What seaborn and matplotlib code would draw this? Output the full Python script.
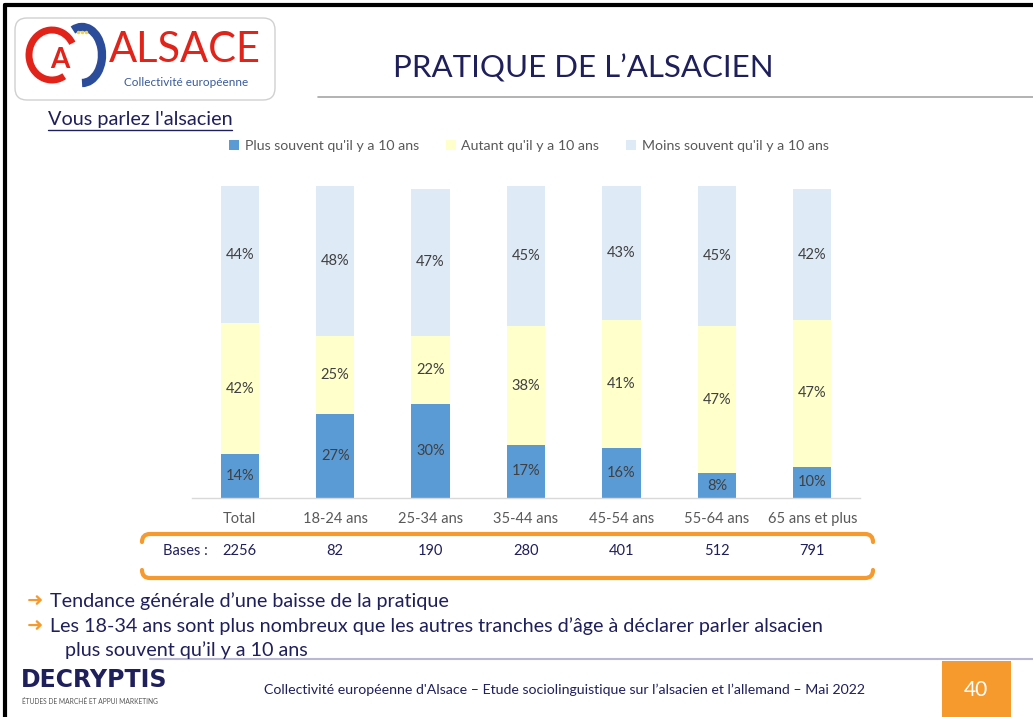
import matplotlib
matplotlib.use("Agg")
import matplotlib.pyplot as plt
import numpy as np
import pandas as pd
import seaborn as sns
from matplotlib.patches import FancyBboxPatch, Rectangle, Arc, PathPatch
from matplotlib.path import Path
from matplotlib.lines import Line2D
from matplotlib import transforms

categories = ["Total", "18-24 ans", "25-34 ans", "35-44 ans", "45-54 ans", "55-64 ans", "65 ans et plus"]
plus_souvent = [14, 27, 30, 17, 16, 8, 10]
autant = [42, 25, 22, 38, 41, 47, 47]
moins_souvent = [44, 48, 47, 45, 43, 45, 42]
bases = [2256, 82, 190, 280, 401, 512, 791]
series_names = ["Plus souvent qu'il y a 10 ans", "Autant qu'il y a 10 ans", "Moins souvent qu'il y a 10 ans"]
colors = ["#5B9BD5", "#FFFFCC", "#DEEAF6"]

NAVY = "#1F1F5C"
GREY_TXT = "#595959"
ORANGE = "#F79A2E"
W, H = 1033, 717

sns.set_theme(style="white")
plt.rcParams["font.family"] = ["Lato", "DejaVu Sans"]

fig = plt.figure(figsize=(W / 100, H / 100), dpi=100)

# overlay in pixel coordinates for the slide decorations
deco = fig.add_axes([0, 0, 1, 1])
deco.set_xlim(0, W)
deco.set_ylim(H, 0)
deco.axis("off")

# chart axes
ax = fig.add_axes([192 / W, 1 - 498 / H, 668 / W, 312 / H])
df = pd.DataFrame({
    "cat": categories,
    "p": plus_souvent,
    "a": autant,
    "m": moins_souvent,
})
df["pa"] = df["p"] + df["a"]
df["pam"] = df["pa"] + df["m"]

# stacked bars drawn as overlapping cumulative totals
for col, c in zip(["pam", "pa", "p"], colors[::-1]):
    sns.barplot(data=df, x="cat", y=col, color=c, width=0.4, ax=ax,
                saturation=1, edgecolor="none", linewidth=0)

ax.set_xlim(-0.5, 6.5)
ax.set_ylim(0, 100)
ax.set_xlabel("")
ax.set_ylabel("")
ax.set_yticks([])
for s in ["top", "right", "left"]:
    ax.spines[s].set_visible(False)
ax.spines["bottom"].set_color("#D9D9D9")
ax.spines["bottom"].set_linewidth(1)
ax.tick_params(axis="x", length=0, pad=10, labelsize=10.5, labelcolor=GREY_TXT)
ax.set_facecolor("none")

# segment labels
for i in range(len(categories)):
    bottoms = [0, plus_souvent[i], plus_souvent[i] + autant[i]]
    vals = [plus_souvent[i], autant[i], moins_souvent[i]]
    for b, v in zip(bottoms, vals):
        ax.text(i, b + v / 2, f"{v}%", ha="center", va="center",
                fontsize=10.5, color="#404040")

# legend
handles = [Rectangle((0, 0), 1, 1, facecolor=c, edgecolor="none") for c in colors]
fig.legend(handles, series_names, loc="center", bbox_to_anchor=(529 / W, 1 - 146 / H),
           ncol=3, frameon=False, fontsize=10.2, labelcolor=GREY_TXT,
           handlelength=0.7, handleheight=0.7, handletextpad=0.4, columnspacing=1.9)

# bases row
blend = transforms.blended_transform_factory(ax.transData, deco.transData)
deco.text(208, 551, "Bases :", ha="right", va="center", fontsize=10.5, color=NAVY)
for i, b in enumerate(bases):
    deco.text(i, 551, str(b), ha="center", va="center", fontsize=10.5,
              color=NAVY, transform=blend)

# orange bracket
r = 8
top = Path([(142, 542), (142, 534), (142 + r, 534), (873 - r, 534), (873, 534), (873, 542)],
           [Path.MOVETO, Path.CURVE3, Path.CURVE3, Path.LINETO, Path.CURVE3, Path.CURVE3])
bot = Path([(142, 570), (142, 578), (142 + r, 578), (873 - r, 578), (873, 578), (873, 570)],
           [Path.MOVETO, Path.CURVE3, Path.CURVE3, Path.LINETO, Path.CURVE3, Path.CURVE3])
for p in (top, bot):
    deco.add_patch(PathPatch(p, facecolor="none", edgecolor=ORANGE, lw=3, capstyle="round"))

# slide frame
deco.add_line(Line2D([5, W], [5, 5], color="black", lw=3))
deco.add_line(Line2D([5, 5], [5, H], color="black", lw=3))

# title
deco.text(583, 68, "PRATIQUE DE L’ALSACIEN", ha="center", va="center",
          fontsize=22.5, color=NAVY)
deco.add_line(Line2D([318, W], [97, 97], color="#A6A6A6", lw=1.2))

# logo Alsace
deco.add_patch(FancyBboxPatch((15, 18), 260, 82, boxstyle="round,pad=0,rounding_size=12",
                              facecolor="white", edgecolor="#D0D0D0", lw=1))
deco.add_patch(Arc((52, 55), 46, 50, theta1=60, theta2=330, color="#E2231A", lw=5))
deco.text(60, 60, "A", ha="center", va="center", fontsize=20, color="#E2231A", fontweight="bold")
deco.add_patch(Arc((82, 55), 40, 56, theta1=-110, theta2=90, color="#2B4C9B", lw=6))
for dx in (-4, 0, 4):
    deco.plot(82 + dx, 32, "o", color="#F2D13A", ms=1.5)
deco.text(185, 50, "ALSACE", ha="center", va="center", fontsize=30, color="#E2231A")
deco.text(186, 82, "Collectivité européenne", ha="center", va="center",
          fontsize=8.5, color="#3A5A9A")

# subtitle
deco.text(48, 120, "Vous parlez l'alsacien", ha="left", va="center", fontsize=14.3, color=NAVY)
deco.add_line(Line2D([48, 232], [130, 130], color=NAVY, lw=1))

# comments
bullets = [
    (27, 601, "➜", "Tendance générale d’une baisse de la pratique"),
    (27, 626, "➜", "Les 18-34 ans sont plus nombreux que les autres tranches d’âge à déclarer parler alsacien"),
    (27, 650, "", "   plus souvent qu’il y a 10 ans"),
]
for x, y, arrow, txt in bullets:
    if arrow:
        deco.text(x, y, arrow, ha="left", va="center", fontsize=14, color=ORANGE,
                  family=["DejaVu Sans"])
    deco.text(50, y, txt, ha="left", va="center", fontsize=14.2, color=NAVY)

# footer
deco.add_line(Line2D([150, W], [659, 659], color="#B8B8D4", lw=1.5))
deco.text(21, 680, "DECRYPTIS", ha="left", va="center", fontsize=17, color=NAVY,
          fontweight="bold", family=["DejaVu Sans"])
deco.text(22, 701, "ÉTUDES DE MARCHÉ ET APPUI MARKETING", ha="left", va="center",
          fontsize=4.8, color="#555555")
deco.text(565, 690, "Collectivité européenne d'Alsace – Etude sociolinguistique sur l’alsacien et l’allemand – Mai 2022",
          ha="center", va="center", fontsize=10.2, color=NAVY)
deco.add_patch(Rectangle((942, 661), 69, 56, facecolor=ORANGE, edgecolor="none"))
deco.text(976, 690, "40", ha="center", va="center", fontsize=15, color="white")

fig.savefig("out.png", dpi=100)
